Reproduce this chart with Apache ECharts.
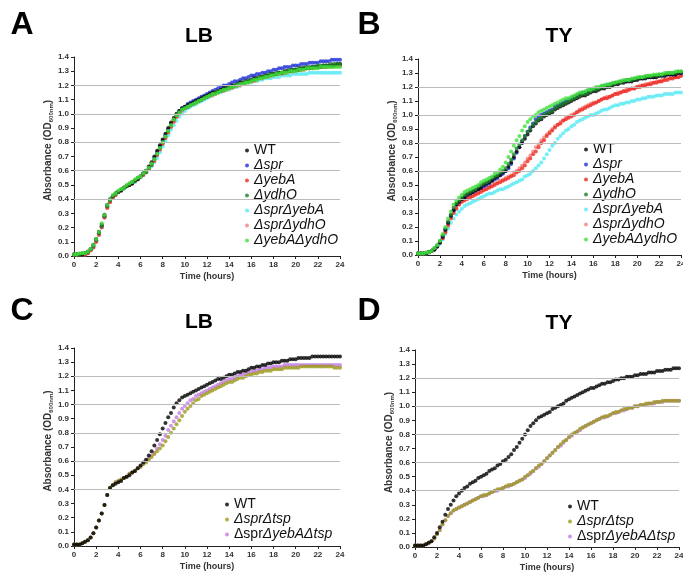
<!DOCTYPE html>
<html>
<head>
<meta charset="utf-8">
<script src="https://cdn.jsdelivr.net/npm/echarts@6/dist/echarts.min.js"></script>
<style>html,body{margin:0;padding:0;background:#fff}#c{width:683px;height:576px}</style>
</head>
<body>
<div id="c"></div>
<script>
// sampling times (every 15 min, 0..24 h)
const hours = Array.from({length: 97}, (_, i) => i * 0.25);
const gridValues = [0.4, 0.6, 0.8, 1.0, 1.2];

// ---------- Panel A (LB) ----------
const A_WT = [0.01,0.01,0.01,0.01, 0.02,0.03,0.05,0.08, 0.12,0.17,0.22,0.29, 0.36,0.40,0.42,0.44, 0.45,0.46,0.48,0.49, 0.50,0.51,0.53,0.54, 0.56,0.58,0.60,0.63, 0.66,0.70,0.74,0.78, 0.82,0.86,0.90,0.94, 0.97,1.00,1.02,1.04, 1.05,1.06,1.07,1.08, 1.09,1.10,1.11,1.12, 1.13,1.14,1.15,1.15, 1.16,1.17,1.18,1.18, 1.19,1.20,1.20,1.21, 1.22,1.22,1.23,1.23, 1.24,1.25,1.25,1.26, 1.26,1.27,1.27,1.28, 1.28,1.28,1.29,1.29, 1.30,1.30,1.30,1.31, 1.31,1.31,1.32,1.32, 1.32,1.32,1.33,1.33, 1.33,1.33,1.34,1.34, 1.34,1.34,1.34,1.35, 1.35];
const A_spr = [0.01,0.01,0.01,0.01, 0.02,0.03,0.04,0.07, 0.11,0.16,0.21,0.28, 0.35,0.39,0.42,0.44, 0.45,0.46,0.48,0.49, 0.50,0.51,0.53,0.54, 0.56,0.58,0.60,0.62, 0.65,0.69,0.73,0.77, 0.81,0.85,0.89,0.93, 0.96,0.99,1.02,1.04, 1.05,1.07,1.08,1.09, 1.10,1.11,1.12,1.13, 1.14,1.15,1.16,1.17, 1.18,1.19,1.20,1.20, 1.21,1.22,1.23,1.23, 1.24,1.25,1.25,1.26, 1.27,1.27,1.28,1.28, 1.29,1.29,1.30,1.30, 1.31,1.31,1.32,1.32, 1.33,1.33,1.33,1.34, 1.34,1.34,1.35,1.35, 1.35,1.36,1.36,1.36, 1.36,1.37,1.37,1.37, 1.37,1.38,1.38,1.38, 1.38];
const A_yebA = [0.01,0.01,0.01,0.01, 0.01,0.02,0.04,0.06, 0.10,0.15,0.20,0.27, 0.34,0.38,0.41,0.43, 0.45,0.46,0.48,0.49, 0.50,0.51,0.53,0.54, 0.56,0.57,0.59,0.61, 0.64,0.67,0.71,0.75, 0.79,0.83,0.87,0.91, 0.95,0.98,1.01,1.03, 1.04,1.05,1.06,1.07, 1.08,1.09,1.10,1.11, 1.12,1.13,1.14,1.15, 1.15,1.16,1.17,1.18, 1.18,1.19,1.20,1.20, 1.21,1.22,1.22,1.23, 1.23,1.24,1.25,1.25, 1.26,1.26,1.27,1.27, 1.28,1.28,1.29,1.29, 1.29,1.30,1.30,1.30, 1.31,1.31,1.31,1.32, 1.32,1.32,1.32,1.33, 1.33,1.33,1.33,1.33, 1.34,1.34,1.34,1.34, 1.34];
const A_ydhO = [0.01,0.01,0.01,0.02, 0.02,0.03,0.05,0.07, 0.11,0.16,0.21,0.28, 0.35,0.39,0.42,0.44, 0.45,0.47,0.48,0.49, 0.51,0.52,0.53,0.55, 0.56,0.58,0.59,0.62, 0.64,0.68,0.72,0.76, 0.80,0.84,0.88,0.92, 0.96,0.99,1.01,1.03, 1.04,1.05,1.06,1.07, 1.08,1.09,1.10,1.11, 1.12,1.13,1.14,1.15, 1.16,1.16,1.17,1.18, 1.19,1.19,1.20,1.21, 1.21,1.22,1.23,1.23, 1.24,1.24,1.25,1.26, 1.26,1.27,1.27,1.28, 1.28,1.29,1.29,1.29, 1.30,1.30,1.31,1.31, 1.31,1.32,1.32,1.32, 1.33,1.33,1.33,1.33, 1.34,1.34,1.34,1.34, 1.34,1.35,1.35,1.35, 1.35];
const A_sprYebA = [0.01,0.01,0.01,0.01, 0.01,0.02,0.04,0.06, 0.10,0.15,0.20,0.27, 0.34,0.38,0.41,0.43, 0.45,0.46,0.47,0.49, 0.50,0.51,0.52,0.54, 0.55,0.57,0.59,0.61, 0.63,0.66,0.69,0.73, 0.77,0.81,0.85,0.89, 0.92,0.95,0.98,1.00, 1.02,1.04,1.05,1.06, 1.07,1.08,1.09,1.10, 1.11,1.12,1.13,1.14, 1.15,1.15,1.16,1.17, 1.17,1.18,1.19,1.19, 1.20,1.21,1.21,1.22, 1.22,1.23,1.23,1.24, 1.24,1.25,1.25,1.25, 1.26,1.26,1.26,1.27, 1.27,1.27,1.27,1.28, 1.28,1.28,1.28,1.28, 1.28,1.29,1.29,1.29, 1.29,1.29,1.29,1.29, 1.29,1.29,1.29,1.29, 1.29];
const A_sprYdhO = [0.01,0.01,0.01,0.01, 0.01,0.02,0.04,0.07, 0.10,0.15,0.21,0.27, 0.34,0.38,0.41,0.43, 0.45,0.46,0.48,0.49, 0.50,0.52,0.53,0.54, 0.56,0.57,0.59,0.61, 0.64,0.67,0.71,0.75, 0.79,0.83,0.87,0.91, 0.94,0.98,1.00,1.02, 1.04,1.05,1.06,1.07, 1.08,1.09,1.10,1.11, 1.12,1.13,1.13,1.14, 1.15,1.16,1.16,1.17, 1.18,1.18,1.19,1.20, 1.20,1.21,1.22,1.22, 1.23,1.23,1.24,1.25, 1.25,1.26,1.26,1.27, 1.27,1.28,1.28,1.28, 1.29,1.29,1.30,1.30, 1.30,1.31,1.31,1.31, 1.32,1.32,1.32,1.32, 1.33,1.33,1.33,1.33, 1.33,1.33,1.34,1.34, 1.34];
const A_yebAYdhO = [0.01,0.01,0.02,0.02, 0.02,0.03,0.05,0.08, 0.12,0.17,0.23,0.29, 0.36,0.40,0.43,0.44, 0.46,0.47,0.48,0.50, 0.51,0.52,0.54,0.55, 0.56,0.58,0.60,0.62, 0.65,0.68,0.72,0.76, 0.80,0.84,0.88,0.92, 0.96,0.99,1.01,1.03, 1.04,1.05,1.06,1.07, 1.08,1.09,1.10,1.11, 1.12,1.13,1.14,1.14, 1.15,1.16,1.17,1.17, 1.18,1.19,1.19,1.20, 1.21,1.21,1.22,1.22, 1.23,1.24,1.24,1.25, 1.25,1.26,1.26,1.27, 1.27,1.28,1.28,1.29, 1.29,1.29,1.30,1.30, 1.30,1.31,1.31,1.31, 1.32,1.32,1.32,1.32, 1.32,1.33,1.33,1.33, 1.33,1.33,1.33,1.33, 1.33];

// ---------- Panel B (TY) ----------
const B_WT = [0.01,0.01,0.01,0.01, 0.02,0.03,0.04,0.06, 0.09,0.13,0.18,0.23, 0.28,0.32,0.36,0.38, 0.40,0.41,0.43,0.44, 0.45,0.46,0.47,0.48, 0.50,0.51,0.52,0.53, 0.55,0.56,0.57,0.59, 0.60,0.63,0.66,0.70, 0.74,0.77,0.80,0.83, 0.86,0.89,0.92,0.94, 0.96,0.97,0.99,1.00, 1.01,1.02,1.04,1.05, 1.06,1.07,1.08,1.09, 1.10,1.11,1.12,1.13, 1.14,1.14,1.15,1.16, 1.17,1.17,1.18,1.19, 1.19,1.20,1.20,1.21, 1.22,1.22,1.23,1.23, 1.24,1.24,1.24,1.25, 1.25,1.26,1.26,1.26, 1.27,1.27,1.27,1.27, 1.28,1.28,1.28,1.29, 1.29,1.29,1.29,1.30, 1.30];
const B_spr = [0.01,0.01,0.01,0.01, 0.02,0.03,0.04,0.06, 0.09,0.13,0.18,0.23, 0.28,0.32,0.36,0.38, 0.40,0.41,0.43,0.44, 0.45,0.46,0.47,0.48, 0.49,0.50,0.51,0.53, 0.54,0.55,0.57,0.58, 0.60,0.62,0.65,0.69, 0.73,0.77,0.81,0.85, 0.88,0.91,0.94,0.97, 0.99,1.00,1.01,1.02, 1.03,1.04,1.06,1.07, 1.08,1.09,1.10,1.11, 1.12,1.13,1.14,1.15, 1.16,1.16,1.17,1.18, 1.18,1.19,1.19,1.20, 1.21,1.21,1.22,1.22, 1.23,1.23,1.24,1.24, 1.24,1.25,1.25,1.25, 1.26,1.26,1.26,1.27, 1.27,1.27,1.27,1.28, 1.28,1.28,1.28,1.29, 1.29,1.29,1.29,1.30, 1.30];
const B_yebA = [0.01,0.01,0.01,0.01, 0.02,0.03,0.04,0.06, 0.09,0.12,0.16,0.21, 0.26,0.30,0.33,0.36, 0.38,0.39,0.40,0.41, 0.42,0.43,0.44,0.45, 0.46,0.47,0.48,0.49, 0.50,0.51,0.52,0.53, 0.54,0.55,0.56,0.57, 0.59,0.60,0.62,0.64, 0.67,0.69,0.72,0.74, 0.77,0.80,0.82,0.85, 0.87,0.89,0.91,0.93, 0.94,0.96,0.97,0.98, 0.99,1.00,1.02,1.03, 1.04,1.05,1.06,1.07, 1.08,1.09,1.10,1.11, 1.12,1.12,1.13,1.14, 1.15,1.15,1.16,1.17, 1.17,1.18,1.19,1.19, 1.20,1.20,1.21,1.21, 1.22,1.22,1.23,1.23, 1.24,1.24,1.25,1.25, 1.26,1.26,1.27,1.27, 1.28];
const B_ydhO = [0.01,0.01,0.01,0.01, 0.02,0.03,0.05,0.07, 0.10,0.14,0.19,0.24, 0.29,0.34,0.37,0.39, 0.41,0.43,0.44,0.45, 0.46,0.47,0.49,0.50, 0.51,0.52,0.53,0.55, 0.56,0.57,0.59,0.60, 0.62,0.65,0.68,0.72, 0.76,0.79,0.82,0.85, 0.88,0.90,0.93,0.95, 0.97,0.98,1.00,1.01, 1.02,1.03,1.05,1.06, 1.07,1.08,1.09,1.10, 1.11,1.12,1.13,1.14, 1.15,1.15,1.16,1.17, 1.18,1.18,1.19,1.20, 1.20,1.21,1.21,1.22, 1.23,1.23,1.24,1.24, 1.25,1.25,1.25,1.26, 1.26,1.27,1.27,1.27, 1.28,1.28,1.28,1.28, 1.29,1.29,1.29,1.30, 1.30,1.30,1.30,1.31, 1.31];
const B_sprYebA = [0.01,0.01,0.01,0.01, 0.02,0.03,0.04,0.06, 0.08,0.11,0.15,0.19, 0.23,0.26,0.29,0.31, 0.33,0.35,0.36,0.37, 0.38,0.39,0.40,0.41, 0.42,0.43,0.44,0.44, 0.45,0.46,0.47,0.47, 0.48,0.49,0.50,0.51, 0.52,0.53,0.54,0.56, 0.57,0.58,0.60,0.62, 0.64,0.66,0.69,0.72, 0.75,0.78,0.80,0.83, 0.85,0.87,0.89,0.90, 0.92,0.93,0.95,0.96, 0.97,0.98,0.99,1.00, 1.00,1.01,1.02,1.03, 1.04,1.04,1.05,1.06, 1.07,1.07,1.08,1.08, 1.09,1.09,1.10,1.10, 1.11,1.11,1.12,1.12, 1.13,1.13,1.13,1.14, 1.14,1.14,1.15,1.15, 1.15,1.15,1.16,1.16, 1.16];
const B_sprYdhO = [0.01,0.01,0.01,0.01, 0.02,0.03,0.04,0.06, 0.09,0.12,0.17,0.22, 0.27,0.31,0.34,0.36, 0.38,0.40,0.41,0.42, 0.43,0.44,0.45,0.46, 0.47,0.48,0.49,0.50, 0.51,0.52,0.53,0.54, 0.55,0.56,0.57,0.59, 0.60,0.62,0.64,0.66, 0.69,0.71,0.74,0.77, 0.79,0.82,0.84,0.86, 0.88,0.90,0.92,0.93, 0.95,0.96,0.98,0.99, 1.00,1.01,1.02,1.04, 1.05,1.06,1.07,1.08, 1.09,1.09,1.10,1.11, 1.12,1.13,1.13,1.14, 1.15,1.16,1.16,1.17, 1.18,1.18,1.19,1.19, 1.20,1.21,1.21,1.22, 1.22,1.23,1.23,1.24, 1.24,1.25,1.25,1.26, 1.26,1.27,1.27,1.27, 1.28];
const B_yebAYdhO = [0.01,0.01,0.01,0.02, 0.02,0.03,0.05,0.07, 0.10,0.15,0.20,0.26, 0.31,0.36,0.39,0.41, 0.43,0.45,0.46,0.47, 0.48,0.49,0.50,0.52, 0.53,0.54,0.55,0.56, 0.58,0.59,0.61,0.63, 0.66,0.70,0.74,0.78, 0.82,0.85,0.89,0.92, 0.95,0.97,0.99,1.00, 1.02,1.03,1.04,1.05, 1.06,1.07,1.08,1.09, 1.10,1.11,1.12,1.12, 1.13,1.14,1.15,1.16, 1.16,1.17,1.18,1.18, 1.19,1.20,1.20,1.21, 1.21,1.22,1.22,1.23, 1.23,1.24,1.24,1.25, 1.25,1.25,1.26,1.26, 1.27,1.27,1.27,1.28, 1.28,1.28,1.29,1.29, 1.29,1.29,1.30,1.30, 1.30,1.30,1.31,1.31, 1.31];

// ---------- Panel C (LB) ----------
const C_WT = [0.01,0.01,0.01,0.02, 0.03,0.04,0.06,0.09, 0.13,0.18,0.23,0.29, 0.36,0.41,0.43,0.44, 0.45,0.46,0.48,0.49, 0.50,0.52,0.53,0.55, 0.57,0.59,0.61,0.64, 0.67,0.71,0.75,0.79, 0.83,0.87,0.91,0.94, 0.98,1.01,1.03,1.05, 1.06,1.07,1.08,1.09, 1.10,1.11,1.12,1.13, 1.14,1.15,1.16,1.17, 1.18,1.18,1.19,1.20, 1.21,1.21,1.22,1.23, 1.23,1.24,1.24,1.25, 1.26,1.26,1.27,1.27, 1.28,1.28,1.29,1.29, 1.30,1.30,1.30,1.31, 1.31,1.31,1.32,1.32, 1.32,1.33,1.33,1.33, 1.33,1.33,1.34,1.34, 1.34,1.34,1.34,1.34, 1.34,1.34,1.34,1.34, 1.34];
const C_sprTsp = [0.01,0.01,0.01,0.02, 0.03,0.04,0.06,0.09, 0.13,0.18,0.23,0.29, 0.36,0.41,0.43,0.45, 0.46,0.47,0.48,0.49, 0.51,0.52,0.53,0.55, 0.56,0.58,0.59,0.61, 0.63,0.65,0.67,0.69, 0.71,0.74,0.77,0.80, 0.83,0.86,0.89,0.92, 0.95,0.97,0.99,1.01, 1.03,1.04,1.06,1.07, 1.08,1.09,1.10,1.11, 1.12,1.13,1.14,1.15, 1.16,1.16,1.17,1.18, 1.19,1.19,1.20,1.21, 1.21,1.22,1.22,1.23, 1.23,1.24,1.24,1.24, 1.25,1.25,1.25,1.25, 1.26,1.26,1.26,1.26, 1.26,1.26,1.27,1.27, 1.27,1.27,1.27,1.27, 1.27,1.27,1.27,1.27, 1.27,1.27,1.26,1.26, 1.26];
const C_sprYebATsp = [0.01,0.01,0.01,0.02, 0.03,0.04,0.06,0.09, 0.13,0.18,0.23,0.29, 0.36,0.41,0.43,0.45, 0.46,0.47,0.48,0.49, 0.51,0.52,0.53,0.55, 0.56,0.58,0.60,0.62, 0.64,0.66,0.69,0.72, 0.75,0.78,0.82,0.85, 0.88,0.91,0.94,0.97, 0.99,1.01,1.03,1.04, 1.06,1.07,1.08,1.09, 1.10,1.11,1.12,1.13, 1.14,1.15,1.16,1.17, 1.18,1.18,1.19,1.20, 1.21,1.21,1.22,1.23, 1.23,1.24,1.24,1.25, 1.25,1.26,1.26,1.26, 1.27,1.27,1.27,1.27, 1.28,1.28,1.28,1.28, 1.28,1.28,1.28,1.28, 1.28,1.28,1.28,1.28, 1.28,1.28,1.28,1.28, 1.28,1.28,1.28,1.28, 1.28];

// ---------- Panel D (TY) ----------
const D_WT = [0.01,0.01,0.01,0.01, 0.02,0.03,0.04,0.07, 0.10,0.14,0.18,0.23, 0.27,0.30,0.33,0.36, 0.38,0.40,0.42,0.43, 0.45,0.46,0.47,0.49, 0.50,0.51,0.52,0.54, 0.55,0.56,0.58,0.59, 0.61,0.62,0.64,0.66, 0.69,0.71,0.74,0.77, 0.80,0.83,0.86,0.88, 0.90,0.92,0.93,0.94, 0.95,0.96,0.98,0.99, 1.00,1.01,1.02,1.04, 1.05,1.06,1.07,1.08, 1.09,1.10,1.11,1.12, 1.13,1.13,1.14,1.15, 1.16,1.16,1.17,1.17, 1.18,1.19,1.19,1.20, 1.20,1.21,1.21,1.21, 1.22,1.22,1.23,1.23, 1.23,1.24,1.24,1.24, 1.25,1.25,1.25,1.26, 1.26,1.26,1.27,1.27, 1.27];
const D_sprTsp = [0.01,0.01,0.01,0.01, 0.02,0.03,0.04,0.06, 0.09,0.12,0.16,0.19, 0.22,0.24,0.26,0.27, 0.28,0.29,0.30,0.31, 0.32,0.33,0.34,0.35, 0.36,0.37,0.37,0.38, 0.39,0.40,0.41,0.41, 0.42,0.43,0.44,0.44, 0.45,0.46,0.47,0.48, 0.50,0.51,0.53,0.54, 0.56,0.58,0.59,0.61, 0.63,0.65,0.67,0.69, 0.71,0.73,0.75,0.76, 0.78,0.80,0.81,0.82, 0.84,0.85,0.86,0.87, 0.88,0.89,0.90,0.91, 0.92,0.93,0.93,0.94, 0.95,0.96,0.96,0.97, 0.98,0.98,0.99,0.99, 1.00,1.00,1.01,1.01, 1.02,1.02,1.02,1.03, 1.03,1.03,1.04,1.04, 1.04,1.04,1.04,1.04, 1.04];
const D_sprYebATsp = [0.01,0.01,0.01,0.01, 0.02,0.03,0.04,0.06, 0.09,0.12,0.16,0.19, 0.22,0.24,0.26,0.27, 0.28,0.29,0.30,0.31, 0.32,0.33,0.34,0.35, 0.36,0.36,0.37,0.38, 0.39,0.40,0.40,0.41, 0.42,0.43,0.43,0.44, 0.45,0.46,0.47,0.48, 0.49,0.51,0.52,0.54, 0.56,0.57,0.59,0.61, 0.63,0.65,0.67,0.69, 0.71,0.72,0.74,0.76, 0.78,0.79,0.81,0.82, 0.83,0.85,0.86,0.87, 0.88,0.89,0.90,0.91, 0.92,0.92,0.93,0.94, 0.95,0.95,0.96,0.97, 0.97,0.98,0.99,0.99, 1.00,1.00,1.01,1.01, 1.01,1.02,1.02,1.02, 1.03,1.03,1.03,1.04, 1.04,1.04,1.04,1.04, 1.04];

const F = '"Liberation Sans", Arial, sans-serif';
const COLORS = {
  'WT': '#000000', 'Δspr': '#1f2fd6', 'ΔyebA': '#ee2a24', 'ΔydhO': '#1f7f2a',
  'ΔsprΔyebA': '#55e8f2', 'ΔsprΔydhO': '#f2837e', 'ΔyebAΔydhO': '#3fe23a',
  'ΔsprΔtsp': '#9c9a1c', 'ΔsprΔyebAΔtsp': '#c47ce6'
};
const legendAB = ['WT','Δspr','ΔyebA','ΔydhO','ΔsprΔyebA','ΔsprΔydhO','ΔyebAΔydhO'];
const legendCD = ['WT','ΔsprΔtsp','ΔsprΔyebAΔtsp'];
const legendText = {
  'WT': '{n|WT}', 'Δspr': '{i|Δspr}', 'ΔyebA': '{i|ΔyebA}', 'ΔydhO': '{i|ΔydhO}',
  'ΔsprΔyebA': '{i|ΔsprΔyebA}', 'ΔsprΔydhO': '{i|ΔsprΔydhO}', 'ΔyebAΔydhO': '{i|ΔyebAΔydhO}',
  'ΔsprΔtsp': '{i|ΔsprΔtsp}', 'ΔsprΔyebAΔtsp': '{n|Δspr}{i|ΔyebAΔtsp}'
};

const grids = [
  {left: 74, top: 57, width: 266, height: 199, outerBoundsMode: 'none', containLabel: false},
  {left: 418, top: 59, width: 263, height: 196, outerBoundsMode: 'none', containLabel: false},
  {left: 74, top: 348, width: 266, height: 198, outerBoundsMode: 'none', containLabel: false},
  {left: 415, top: 350, width: 264, height: 197, outerBoundsMode: 'none', containLabel: false}
];

function xAx(gi) {
  return {
    gridIndex: gi, type: 'value', min: 0, max: 24, interval: 2,
    axisLine: {show: true, onZero: false, lineStyle: {color: '#222', width: 1}},
    axisTick: {show: true, length: 3, lineStyle: {color: '#222'}},
    axisLabel: {fontSize: 8, fontWeight: 'bold', color: '#333', margin: 5, fontFamily: F},
    splitLine: {show: false},
    name: 'Time (hours)', nameLocation: 'middle', nameGap: 16,
    nameTextStyle: {fontSize: 9, fontWeight: 'bold', color: '#333', fontFamily: F}
  };
}
function yAx(gi) {
  return {
    gridIndex: gi, type: 'value', min: 0, max: 1.4, interval: 0.1,
    axisLine: {show: true, lineStyle: {color: '#222', width: 1}},
    axisTick: {show: true, length: 3, lineStyle: {color: '#222'}},
    axisLabel: {fontSize: 8, fontWeight: 'bold', color: '#333', margin: 5, fontFamily: F,
      formatter: v => v.toFixed(1)},
    splitLine: {show: false},
    name: '{b|Absorbance (OD}{s|600nm}{b|)}', nameLocation: 'middle', nameGap: 20,
    nameTextStyle: {
      padding: [0, 0, 0, 12],
      rich: {
        b: {fontSize: 10, fontWeight: 'bold', color: '#333', fontFamily: F},
        s: {fontSize: 6, fontWeight: 'bold', color: '#333', fontFamily: F, padding: [6, 0, 0, 0]}
      }
    }
  };
}

function sc(name, vals, gi, z) {
  return {
    type: 'scatter', name: name, xAxisIndex: gi, yAxisIndex: gi,
    data: hours.map((t, i) => [t, vals[i]]),
    symbol: 'circle', symbolSize: 4, itemStyle: {color: COLORS[name]},
    z: z, silent: true, animation: false
  };
}
function gridLines(gi) {
  return {
    type: 'line', name: '_grid' + gi, xAxisIndex: gi, yAxisIndex: gi, data: [], z: 1,
    silent: true, animation: false,
    markLine: {silent: true, symbol: 'none', animation: false, label: {show: false},
      lineStyle: {color: '#bcbcbc', width: 1.2, type: 'solid'},
      data: gridValues.map(v => ({yAxis: v}))}
  };
}

const series = [
  gridLines(0), gridLines(1), gridLines(2), gridLines(3),
  // A
  sc('Δspr', A_spr, 0, 2), sc('ΔsprΔyebA', A_sprYebA, 0, 2), sc('ΔsprΔydhO', A_sprYdhO, 0, 2),
  sc('ΔyebA', A_yebA, 0, 2), sc('WT', A_WT, 0, 2), sc('ΔydhO', A_ydhO, 0, 2), sc('ΔyebAΔydhO', A_yebAYdhO, 0, 2),
  // B
  sc('ΔsprΔyebA', B_sprYebA, 1, 2), sc('ΔsprΔydhO', B_sprYdhO, 1, 2), sc('ΔyebA', B_yebA, 1, 2),
  sc('Δspr', B_spr, 1, 2), sc('WT', B_WT, 1, 2), sc('ΔydhO', B_ydhO, 1, 2), sc('ΔyebAΔydhO', B_yebAYdhO, 1, 2),
  // C
  sc('ΔsprΔyebAΔtsp', C_sprYebATsp, 2, 2), sc('ΔsprΔtsp', C_sprTsp, 2, 2), sc('WT', C_WT, 2, 2),
  // D
  sc('ΔsprΔyebAΔtsp', D_sprYebATsp, 3, 2), sc('ΔsprΔtsp', D_sprTsp, 3, 2), sc('WT', D_WT, 3, 2)
];

const rich = {
  n: {fontSize: 14, color: '#111', fontFamily: F, lineHeight: 15},
  i: {fontSize: 14, color: '#111', fontFamily: F, fontStyle: 'italic', lineHeight: 15}
};
function lg(names, left, top) {
  return {
    orient: 'vertical', left: left, top: top, itemWidth: 4, itemHeight: 4, itemGap: 0,
    icon: 'circle', selectedMode: false, padding: 0, data: names,
    formatter: n => legendText[n], textStyle: {rich: rich, fontSize: 14, lineHeight: 15}
  };
}

function txt(x, y, s, size) {
  return {type: 'text', x: x, y: y, silent: true,
    style: {text: s, fontSize: size, fontWeight: 'bold', fontFamily: F, fill: '#000',
      align: 'center', verticalAlign: 'middle'}};
}

const chart = echarts.init(document.getElementById('c'), null, {renderer: 'canvas'});
chart.setOption({
  animation: false,
  backgroundColor: '#fff',
  grid: grids,
  xAxis: [xAx(0), xAx(1), xAx(2), xAx(3)],
  yAxis: [yAx(0), yAx(1), yAx(2), yAx(3)],
  legend: [lg(legendAB, 245, 143), lg(legendAB, 584, 142), lg(legendCD, 225, 497), lg(legendCD, 568, 499)],
  graphic: [
    txt(22, 25, 'A', 32), txt(369, 25, 'B', 32), txt(22, 311, 'C', 32), txt(369, 311, 'D', 32),
    txt(199, 36, 'LB', 21), txt(559, 36, 'TY', 21), txt(199, 322, 'LB', 21), txt(559, 323, 'TY', 21)
  ],
  series: series
});
</script>
</body>
</html>
